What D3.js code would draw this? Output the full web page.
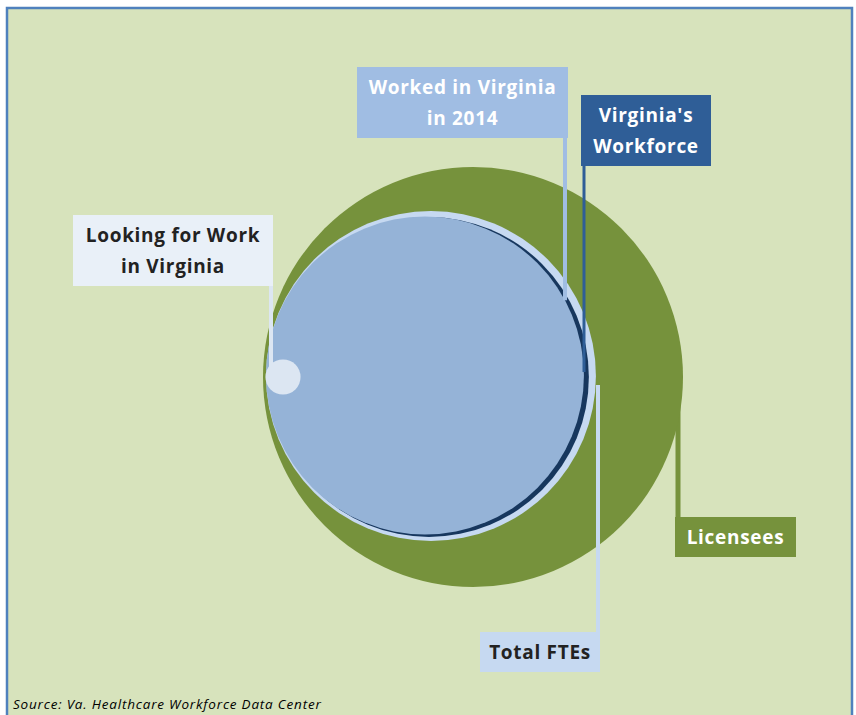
<!DOCTYPE html>
<html>
<head>
<meta charset="utf-8">
<script src="https://cdn.jsdelivr.net/npm/d3@7"></script>
<style>
  body { margin: 0; background: #fff; }
  .lbl { font-family: "Open Sans", Lato, sans-serif; font-weight: 700; font-size: 19px; letter-spacing: 0.7px; }
</style>
</head>
<body>
<div id="chart"></div>
<script>
var groups = ["Licensees", "Total FTEs", "Virginia's Workforce", "Worked in Virginia in 2014", "Looking for Work in Virginia"];
var values = [1000, 617, 580, 573, 7];

var width = 856, height = 715;

var svg = d3.select("#chart").append("svg")
    .attr("width", width)
    .attr("height", height);

// background panel + frame
svg.append("rect")
    .attr("x", 7).attr("y", 8)
    .attr("width", 845).attr("height", 720)
    .attr("fill", "#d7e3bc")
    .attr("stroke", "#4f81bd")
    .attr("stroke-width", 2.5);

// radius from value (area proportional)
var r = d3.scaleSqrt().domain([0, 1000]).range([0, 210]);
var cy = 377;

var rad = values.map(function (v) { return r(v); });
// big circle, then the blue ones nudged so they share roughly the left edge
var cx = [263 + rad[0], 266 + rad[1], 269 + rad[2], 266 + rad[3], 283];
var cys = [cy, cy - 1, cy, cy - 1.5, cy];

// line for licensees sits behind green circle
svg.append("line")
    .attr("x1", 678).attr("x2", 678)
    .attr("y1", cy).attr("y2", 557)
    .attr("stroke", "#76923c").attr("stroke-width", 5);

var fills = ["#76923c", "#c6d9f1", "#17375e", "#95b3d7"];
svg.selectAll("circle.grp")
    .data(values.slice(0, 4))
    .enter().append("circle")
    .attr("class", "grp")
    .attr("cx", function (d, i) { return cx[i]; })
    .attr("cy", function (d, i) { return cys[i]; })
    .attr("r", function (d) { return r(d); })
    .attr("fill", function (d, i) { return fills[i]; });

// leader lines
var leaders = [
  { x: 565, y1: 130, y2: cys[3] - Math.sqrt(rad[3] * rad[3] - Math.pow(565 - cx[3], 2)), c: "#a0bde3", w: 4 },
  { x: 584, y1: 160, y2: cy - 5, c: "#2f5e97", w: 3 },
  { x: 598, y1: cy + 8, y2: 672, c: "#c6d9f1", w: 4 },
  { x: 271, y1: 280, y2: cy, c: "#dce6f2", w: 4 }
];
svg.selectAll("line.lead")
    .data(leaders)
    .enter().append("line")
    .attr("class", "lead")
    .attr("x1", function (d) { return d.x; }).attr("x2", function (d) { return d.x; })
    .attr("y1", function (d) { return d.y1; }).attr("y2", function (d) { return d.y2; })
    .attr("stroke", function (d) { return d.c; })
    .attr("stroke-width", function (d) { return d.w; });

// looking for work dot
svg.append("circle")
    .attr("cx", cx[4]).attr("cy", cy)
    .attr("r", r(values[4]))
    .attr("fill", "#dce6f2");

// label boxes
var boxes = [
  { x: 357, y: 67, w: 211, h: 71, fill: "#a0bde3", col: "#fff", lines: ["Worked in Virginia", "in 2014"] },
  { x: 581, y: 95, w: 130, h: 71, fill: "#2f5e97", col: "#fff", lines: ["Virginia's", "Workforce"] },
  { x: 73, y: 215, w: 200, h: 71, fill: "#e9f0f8", col: "#222", lines: ["Looking for Work", "in Virginia"] },
  { x: 675, y: 517, w: 121, h: 40, fill: "#76923c", col: "#fff", lines: ["Licensees"] },
  { x: 480, y: 632, w: 120, h: 40, fill: "#c6d9f1", col: "#222", lines: ["Total FTEs"] }
];

var b = svg.selectAll("g.box")
    .data(boxes)
    .enter().append("g")
    .attr("class", "box");

b.append("rect")
    .attr("x", function (d) { return d.x; })
    .attr("y", function (d) { return d.y; })
    .attr("width", function (d) { return d.w; })
    .attr("height", function (d) { return d.h; })
    .attr("fill", function (d) { return d.fill; });

b.each(function (d) {
  var g = d3.select(this);
  var n = d.lines.length;
  d.lines.forEach(function (t, i) {
    g.append("text")
      .attr("class", "lbl")
      .attr("x", d.x + d.w / 2)
      .attr("y", d.y + d.h / 2 + (i - (n - 1) / 2) * 31 + 7)
      .attr("text-anchor", "middle")
      .attr("fill", d.col)
      .text(t);
  });
});

// source note
svg.append("text")
    .attr("x", 13).attr("y", 709)
    .attr("font-family", "'Open Sans', Lato, sans-serif")
    .attr("font-style", "italic")
    .attr("font-size", 13.5)
    .attr("letter-spacing", "0.8px")
    .attr("fill", "#000")
    .text("Source:  Va. Healthcare Workforce Data Center");
</script>
</body>
</html>
